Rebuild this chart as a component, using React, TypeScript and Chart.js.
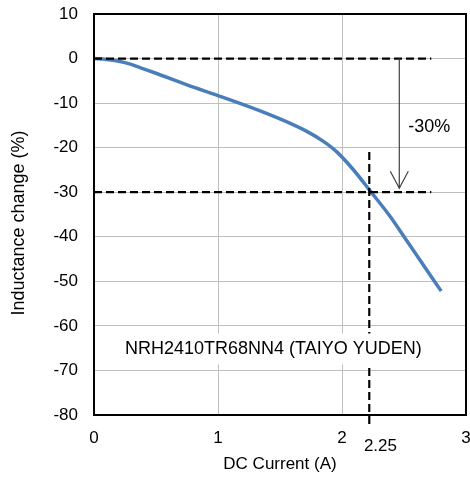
import React, { useEffect, useRef } from "react";
import { Chart, registerables } from "chart.js";

Chart.register(...registerables);

const currentA = [0, 0.1, 0.2, 0.3, 0.4, 0.5, 0.75, 1.0, 1.26, 1.47, 1.72, 1.85, 1.96, 2.09, 2.23, 2.39, 2.52, 2.66, 2.8];
const inductanceChange = [0, -0.2, -0.6, -1.3, -2.3, -3.3, -5.9, -8.3, -10.9, -13.2, -16.4, -18.6, -21.0, -24.9, -29.8, -35.5, -40.8, -46.5, -52.2];
const xTickValues = [0, 1, 2, 3];
const yTickValues = [10, 0, -10, -20, -30, -40, -50, -60, -70, -80];
const refLevels = [0, -30];
const refLineEndX = 2.72;
const markerCurrent = 2.22;
const markerLabel = "2.25";
const markerTopY = -21;
const markerBottomY = -82;
const arrowX = 2.462;
const arrowLabel = "-30%";
const partLabel = "NRH2410TR68NN4 (TAIYO YUDEN)";
const xTitle = "DC Current (A)";
const yTitle = "Inductance change (%)";

const FONT = "'Liberation Sans', Arial, sans-serif";

const overlayPlugin = {
  id: "overlay",
  afterDatasetsDraw(chart: any) {
    const { ctx, scales } = chart;
    const xs = scales.x;
    const ys = scales.y;
    ctx.save();
    ctx.strokeStyle = "#000";
    ctx.lineWidth = 2.2;
    ctx.setLineDash([8, 4]);
    refLevels.forEach((lv) => {
      ctx.beginPath();
      ctx.moveTo(xs.getPixelForValue(0), ys.getPixelForValue(lv));
      ctx.lineTo(xs.getPixelForValue(refLineEndX), ys.getPixelForValue(lv));
      ctx.stroke();
    });
    ctx.beginPath();
    ctx.moveTo(xs.getPixelForValue(markerCurrent), ys.getPixelForValue(markerTopY));
    ctx.lineTo(xs.getPixelForValue(markerCurrent), ys.getPixelForValue(markerBottomY));
    ctx.stroke();
    ctx.setLineDash([]);
    const ax = xs.getPixelForValue(arrowX);
    const ay0 = ys.getPixelForValue(refLevels[0]);
    const ay1 = ys.getPixelForValue(refLevels[1]) - 4;
    ctx.strokeStyle = "#404040";
    ctx.lineWidth = 1.2;
    ctx.beginPath();
    ctx.moveTo(ax, ay0);
    ctx.lineTo(ax, ay1);
    ctx.moveTo(ax - 9, ay1 - 17);
    ctx.lineTo(ax, ay1);
    ctx.lineTo(ax + 9, ay1 - 17);
    ctx.stroke();
    ctx.fillStyle = "#000";
    ctx.font = `18px ${FONT}`;
    ctx.textAlign = "left";
    ctx.textBaseline = "middle";
    ctx.fillText(arrowLabel, xs.getPixelForValue(2.535), ys.getPixelForValue(-15.4));
    const cx = xs.getPixelForValue(1.446);
    const cy = ys.getPixelForValue(-65.3);
    const w = ctx.measureText(partLabel).width;
    ctx.fillStyle = "#fff";
    ctx.fillRect(cx - w / 2 - 4, cy - 16, w + 8, 31);
    ctx.fillStyle = "#000";
    ctx.textAlign = "center";
    ctx.fillText(partLabel, cx, cy);
    ctx.font = `17px ${FONT}`;
    ctx.fillText(markerLabel, xs.getPixelForValue(2.31), 446);
    ctx.save();
    ctx.translate(19, 223);
    ctx.rotate(-Math.PI / 2);
    ctx.font = `18px ${FONT}`;
    ctx.fillText(yTitle, 0, 0);
    ctx.restore();
    ctx.restore();
  },
  afterDraw(chart: any) {
    const { ctx, chartArea } = chart;
    ctx.save();
    ctx.strokeStyle = "#000";
    ctx.lineWidth = 2;
    ctx.strokeRect(chartArea.left, chartArea.top, chartArea.right - chartArea.left, chartArea.bottom - chartArea.top);
    ctx.restore();
  },
};

export default function App() {
  const ref = useRef<HTMLCanvasElement>(null);
  useEffect(() => {
    if (!ref.current) return;
    const chart = new Chart(ref.current, {
      type: "line",
      data: {
        datasets: [
          {
            data: currentA.map((x, i) => ({ x, y: inductanceChange[i] })),
            borderColor: "#4a7ebb",
            borderWidth: 3.5,
            pointRadius: 0,
            cubicInterpolationMode: "monotone",
            fill: false,
          },
        ],
      },
      options: {
        animation: false,
        responsive: false,
        layout: { padding: { top: 14, right: 4, left: 0, bottom: 0 } },
        plugins: { legend: { display: false }, tooltip: { enabled: false } },
        scales: {
          x: {
            type: "linear",
            min: 0,
            max: 3,
            afterBuildTicks: (s: any) => {
              s.ticks = xTickValues.map((v) => ({ value: v }));
            },
            afterFit: (s: any) => {
              s.height = 69;
              s.paddingLeft = 0;
              s.paddingRight = 0;
            },
            grid: { color: "#bfbfbf", lineWidth: 1, drawTicks: false },
            border: { display: false },
            ticks: { color: "#000", font: { family: FONT, size: 17 }, padding: 13, maxRotation: 0 },
            title: { display: true, text: xTitle, color: "#000", font: { family: FONT, size: 17 }, padding: { top: 0, bottom: 9 } },
          },
          y: {
            type: "linear",
            min: -80,
            max: 10,
            afterBuildTicks: (s: any) => {
              s.ticks = yTickValues.map((v) => ({ value: v }));
            },
            afterFit: (s: any) => {
              s.width = 94;
              s.paddingTop = 0;
              s.paddingBottom = 0;
            },
            grid: { color: "#bfbfbf", lineWidth: 1, drawTicks: false },
            border: { display: false },
            ticks: { color: "#000", font: { family: FONT, size: 17 }, padding: 16 },
          },
        },
      },
      plugins: [overlayPlugin],
    } as any);
    return () => chart.destroy();
  }, []);
  return (
    <div style={{ position: "fixed", left: 0, top: 0, width: 470, height: 484, background: "#fff" }}>
      <canvas ref={ref} width={470} height={484} />
    </div>
  );
}
